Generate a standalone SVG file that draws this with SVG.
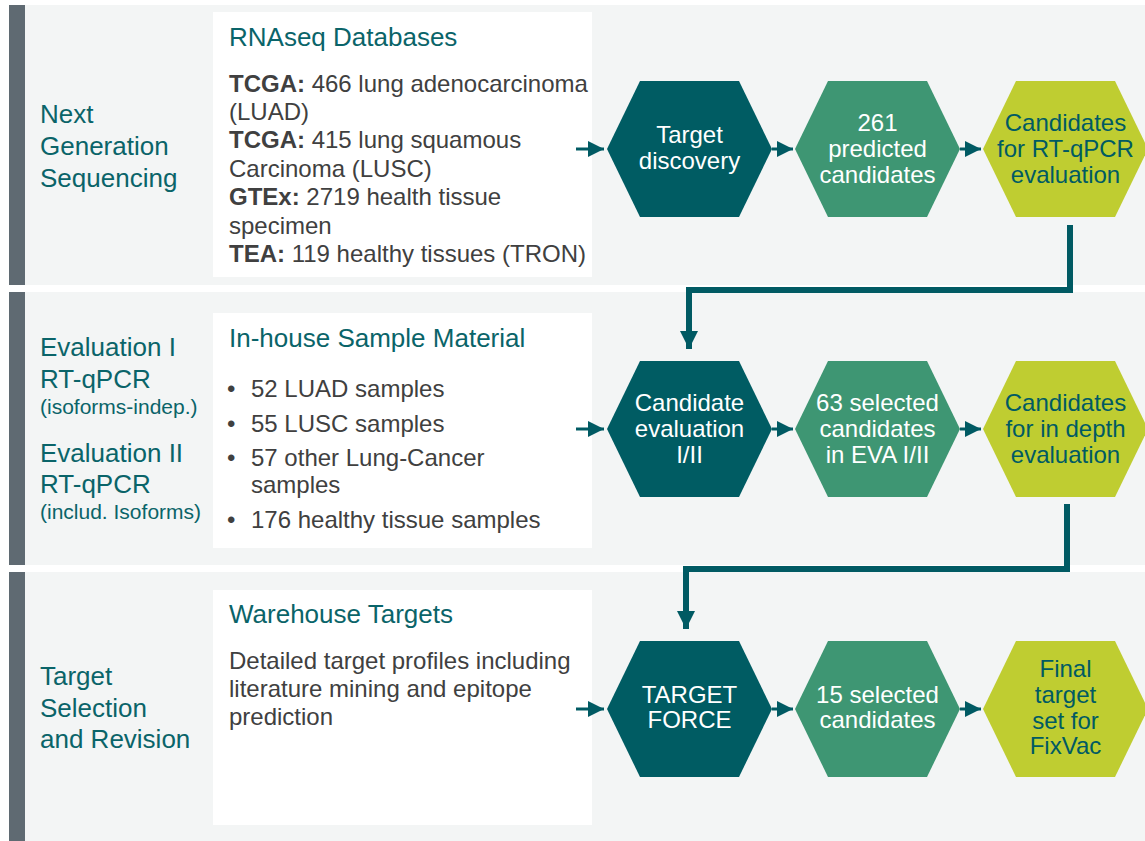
<svg xmlns="http://www.w3.org/2000/svg" width="1145" height="841" viewBox="0 0 1145 841">
<defs>
<style>
.panel{fill:#f3f5f5}
.bar{fill:#5f6a72}
.box{fill:#ffffff}
.lbl{font-family:"Liberation Sans",Arial,sans-serif;font-size:26px;fill:#0a6469}
.sm{font-size:21px}
.hdr{font-family:"Liberation Sans",Arial,sans-serif;font-size:26px;fill:#0a6469}
.body{font-family:"Liberation Sans",Arial,sans-serif;font-size:24px;fill:#404040}
.b{font-weight:bold}
.ht{font-family:"Liberation Sans",Arial,sans-serif;font-size:24px;text-anchor:middle}
.w{fill:#ffffff}
.d{fill:#005a63}
.h1{fill:#005c63}
.h2{fill:#3e9673}
.h3{fill:#bfcd31}
.cl{stroke:#005a63;stroke-width:3;fill:none}
.el{stroke:#005a63;stroke-width:6;fill:none}
</style>
<marker id="ah" viewBox="0 0 16 16" refX="16" refY="8" markerWidth="16" markerHeight="16" markerUnits="userSpaceOnUse" orient="auto">
<path d="M0,0 L16,8 L0,16 Z" fill="#005a63"/>
</marker>
<marker id="ahb" viewBox="0 0 18 18" refX="18" refY="9" markerWidth="18" markerHeight="18" markerUnits="userSpaceOnUse" orient="auto">
<path d="M0,0 L18,9 L0,18 Z" fill="#005a63"/>
</marker>
</defs>

<g id="panels">
<rect class="panel" x="9" y="5" width="1136" height="280"/>
<rect class="bar" x="9" y="5" width="16" height="280"/>
<rect class="panel" x="9" y="292" width="1136" height="273"/>
<rect class="bar" x="9" y="292" width="16" height="273"/>
<rect class="panel" x="9" y="572" width="1136" height="269"/>
<rect class="bar" x="9" y="572" width="16" height="269"/>
</g>

<g id="label-ngs">
<text class="lbl" x="40" y="123">Next</text>
<text class="lbl" x="40" y="155">Generation</text>
<text class="lbl" x="40" y="187">Sequencing</text>
</g>
<g id="label-eval">
<text class="lbl" x="40" y="356">Evaluation I</text>
<text class="lbl" x="40" y="388">RT-qPCR</text>
<text class="lbl sm" x="40" y="414">(isoforms-indep.)</text>
<text class="lbl" x="40" y="462">Evaluation II</text>
<text class="lbl" x="40" y="493">RT-qPCR</text>
<text class="lbl sm" x="40" y="519">(includ. Isoforms)</text>
</g>
<g id="label-target">
<text class="lbl" x="40" y="685">Target</text>
<text class="lbl" x="40" y="717">Selection</text>
<text class="lbl" x="40" y="748">and Revision</text>
</g>

<g id="box-rnaseq">
<rect class="box" x="213" y="12" width="379" height="265"/>
<text class="hdr" x="229" y="46">RNAseq Databases</text>
<text class="body" x="229" y="92"><tspan class="b">TCGA:</tspan> 466 lung adenocarcinoma</text>
<text class="body" x="229" y="120">(LUAD)</text>
<text class="body" x="229" y="148"><tspan class="b">TCGA:</tspan> 415 lung squamous</text>
<text class="body" x="229" y="177">Carcinoma (LUSC)</text>
<text class="body" x="229" y="205"><tspan class="b">GTEx:</tspan> 2719 health tissue</text>
<text class="body" x="229" y="234">specimen</text>
<text class="body" x="229" y="262"><tspan class="b">TEA:</tspan> 119 healthy tissues (TRON)</text>
</g>

<g id="box-inhouse">
<rect class="box" x="213" y="313" width="379" height="235"/>
<text class="hdr" x="229" y="347">In-house Sample Material</text>
<text class="body" x="227" y="397">•</text>
<text class="body" x="251" y="397">52 LUAD samples</text>
<text class="body" x="227" y="432">•</text>
<text class="body" x="251" y="432">55 LUSC samples</text>
<text class="body" x="227" y="466">•</text>
<text class="body" x="251" y="466">57 other Lung-Cancer</text>
<text class="body" x="251" y="493">samples</text>
<text class="body" x="227" y="528">•</text>
<text class="body" x="251" y="528">176 healthy tissue samples</text>
</g>

<g id="box-warehouse">
<rect class="box" x="213" y="590" width="379" height="235"/>
<text class="hdr" x="229" y="623">Warehouse Targets</text>
<text class="body" x="229" y="669">Detailed target profiles including</text>
<text class="body" x="229" y="697">literature mining and epitope</text>
<text class="body" x="229" y="725">prediction</text>
</g>

<g id="hex-target-discovery">
<polygon class="h1" points="607,149 640,81 739,81 772,149 739,217 640,217"/>
<text class="ht w" x="689.5" y="143">Target</text>
<text class="ht w" x="689.5" y="169">discovery</text>
</g>
<g id="hex-261">
<polygon class="h2" points="795,149 828,81 927,81 960,149 927,217 828,217"/>
<text class="ht w" x="877.5" y="131">261</text>
<text class="ht w" x="877.5" y="157">predicted</text>
<text class="ht w" x="877.5" y="183">candidates</text>
</g>
<g id="hex-rtqpcr">
<polygon class="h3" points="983,149 1016,81 1115,81 1148,149 1115,217 1016,217"/>
<text class="ht d" x="1065.5" y="131">Candidates</text>
<text class="ht d" x="1065.5" y="157">for RT-qPCR</text>
<text class="ht d" x="1065.5" y="183">evaluation</text>
</g>

<g id="hex-candidate-eval">
<polygon class="h1" points="607,429 640,361 739,361 772,429 739,497 640,497"/>
<text class="ht w" x="689.5" y="411">Candidate</text>
<text class="ht w" x="689.5" y="437">evaluation</text>
<text class="ht w" x="689.5" y="463">I/II</text>
</g>
<g id="hex-63">
<polygon class="h2" points="795,429 828,361 927,361 960,429 927,497 828,497"/>
<text class="ht w" x="877.5" y="411">63 selected</text>
<text class="ht w" x="877.5" y="437">candidates</text>
<text class="ht w" x="877.5" y="463">in EVA I/II</text>
</g>
<g id="hex-indepth">
<polygon class="h3" points="983,429 1016,361 1115,361 1148,429 1115,497 1016,497"/>
<text class="ht d" x="1065.5" y="411">Candidates</text>
<text class="ht d" x="1065.5" y="437">for in depth</text>
<text class="ht d" x="1065.5" y="463">evaluation</text>
</g>

<g id="hex-target-force">
<polygon class="h1" points="607,709 640,641 739,641 772,709 739,777 640,777"/>
<text class="ht w" x="689.5" y="703">TARGET</text>
<text class="ht w" x="689.5" y="728">FORCE</text>
</g>
<g id="hex-15">
<polygon class="h2" points="795,709 828,641 927,641 960,709 927,777 828,777"/>
<text class="ht w" x="877.5" y="703">15 selected</text>
<text class="ht w" x="877.5" y="728">candidates</text>
</g>
<g id="hex-final">
<polygon class="h3" points="983,709 1016,641 1115,641 1148,709 1115,777 1016,777"/>
<text class="ht d" x="1065.5" y="677">Final</text>
<text class="ht d" x="1065.5" y="703">target</text>
<text class="ht d" x="1065.5" y="729">set for</text>
<text class="ht d" x="1065.5" y="754">FixVac</text>
</g>

<g id="connectors">
<line class="cl" x1="576" y1="149" x2="604" y2="149" marker-end="url(#ah)"/>
<line class="cl" x1="772" y1="149" x2="793" y2="149" marker-end="url(#ah)"/>
<line class="cl" x1="960" y1="149" x2="981" y2="149" marker-end="url(#ah)"/>
<line class="cl" x1="576" y1="429" x2="604" y2="429" marker-end="url(#ah)"/>
<line class="cl" x1="772" y1="429" x2="793" y2="429" marker-end="url(#ah)"/>
<line class="cl" x1="960" y1="429" x2="981" y2="429" marker-end="url(#ah)"/>
<line class="cl" x1="576" y1="709" x2="604" y2="709" marker-end="url(#ah)"/>
<line class="cl" x1="772" y1="709" x2="793" y2="709" marker-end="url(#ah)"/>
<line class="cl" x1="960" y1="709" x2="981" y2="709" marker-end="url(#ah)"/>
<polyline class="el" points="1070,225 1070,290 689,290 689,349" marker-end="url(#ahb)"/>
<polyline class="el" points="1067,504 1067,569 686,569 686,629" marker-end="url(#ahb)"/>
</g>
</svg>
